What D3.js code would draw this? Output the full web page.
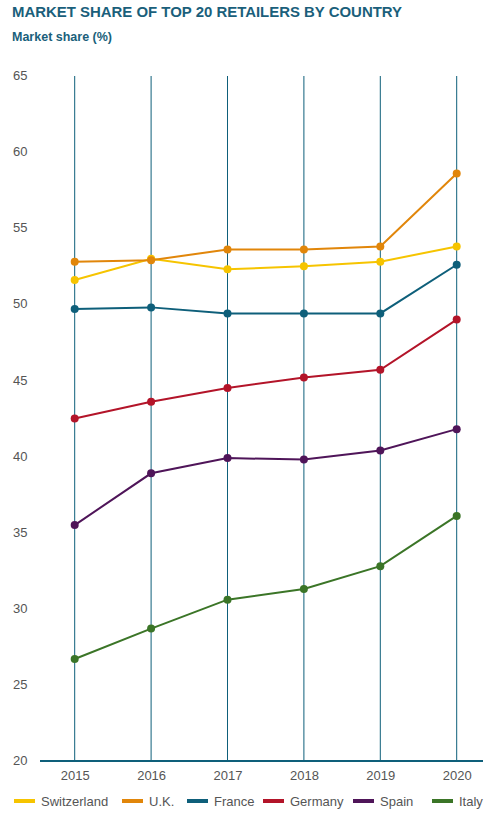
<!DOCTYPE html>
<html>
<head>
<meta charset="utf-8">
<script src="https://cdn.jsdelivr.net/npm/d3@7"></script>
<style>
  body { margin: 0; background: #fff; }
  svg { display: block; font-family: "Liberation Sans", Arial, sans-serif; }
</style>
</head>
<body>
<div id="chart"></div>
<script>
// market share of top 20 retailers, by country (%)
const years = [2015, 2016, 2017, 2018, 2019, 2020];
const countries = ["Switzerland", "U.K.", "France", "Germany", "Spain", "Italy"];
const colors = ["#f6c400", "#e1860a", "#0e5f7a", "#b31429", "#4f1559", "#3b7527"];
const switzerland = [51.6, 53.0, 52.3, 52.5, 52.8, 53.8];
const uk = [52.8, 52.9, 53.6, 53.6, 53.8, 58.6];
const france = [49.7, 49.8, 49.4, 49.4, 49.4, 52.6];
const germany = [42.5, 43.6, 44.5, 45.2, 45.7, 49.0];
const spain = [35.5, 38.9, 39.9, 39.8, 40.4, 41.8];
const italy = [26.7, 28.7, 30.6, 31.3, 32.8, 36.1];
const yTicks = [20, 25, 30, 35, 40, 45, 50, 55, 60, 65];

const series = [switzerland, uk, france, germany, spain, italy].map((v, i) => ({
  name: countries[i], color: colors[i], values: v
}));

const width = 493, height = 815;
const svg = d3.select("#chart").append("svg")
  .attr("width", width)
  .attr("height", height);

const x = d3.scalePoint().domain(years).range([74.7, 456.7]);
const y = d3.scaleLinear().domain([20, 65]).range([761, 76]);

// titles
svg.append("text")
  .attr("x", 12).attr("y", 17)
  .attr("font-size", 15.5).attr("font-weight", "bold")
  .attr("fill", "#1a5f7b")
  .attr("textLength", 390).attr("lengthAdjust", "spacingAndGlyphs")
  .text("MARKET SHARE OF TOP 20 RETAILERS BY COUNTRY");

svg.append("text")
  .attr("x", 12).attr("y", 41)
  .attr("font-size", 12.5).attr("font-weight", "bold")
  .attr("fill", "#1a5f7b")
  .text("Market share (%)");

// vertical gridlines at each year
svg.append("g")
  .selectAll("line")
  .data(years)
  .join("line")
  .attr("x1", d => x(d)).attr("x2", d => x(d))
  .attr("y1", y(65)).attr("y2", y(20))
  .attr("stroke", "#0e5f7a")
  .attr("stroke-width", 1);

// y labels
svg.append("g")
  .selectAll("text")
  .data(yTicks)
  .join("text")
  .attr("x", 13)
  .attr("y", d => y(d))
  .attr("dy", "0.32em")
  .attr("font-size", 13)
  .attr("fill", "#555")
  .text(d => d);

// x axis
const xAxis = svg.append("g")
  .attr("transform", `translate(0,${y(20)})`)
  .call(d3.axisBottom(x).tickSize(0).tickPadding(10).tickFormat(d3.format("d")));
xAxis.select(".domain").remove();
xAxis.selectAll("text").attr("font-size", 13).attr("fill", "#555")
  .attr("font-family", "Liberation Sans, Arial, sans-serif");
svg.append("line")
  .attr("x1", 40).attr("x2", 483)
  .attr("y1", y(20)).attr("y2", y(20))
  .attr("stroke", "#0e5f7a").attr("stroke-width", 2);

// lines and dots
const line = d3.line().x((d, i) => x(years[i])).y(d => y(d));
const g = svg.append("g")
  .selectAll("g")
  .data(series)
  .join("g");

g.append("path")
  .attr("d", d => line(d.values))
  .attr("fill", "none")
  .attr("stroke", d => d.color)
  .attr("stroke-width", 2);

g.selectAll("circle")
  .data(d => d.values.map((v, i) => ({ v, i, color: d.color })))
  .join("circle")
  .attr("cx", d => x(years[d.i]))
  .attr("cy", d => y(d.v))
  .attr("r", 4)
  .attr("fill", d => d.color);

// legend
const legendX = [14, 122, 187, 263, 353, 432];
const legend = svg.append("g")
  .selectAll("g")
  .data(series)
  .join("g")
  .attr("transform", (d, i) => `translate(${legendX[i]},801)`);

legend.append("rect")
  .attr("x", 0).attr("y", -2)
  .attr("width", 21).attr("height", 4)
  .attr("fill", d => d.color);

legend.append("text")
  .attr("x", 27).attr("y", 0)
  .attr("dy", "0.35em")
  .attr("font-size", 13)
  .attr("fill", "#555")
  .text(d => d.name);
</script>
</body>
</html>
